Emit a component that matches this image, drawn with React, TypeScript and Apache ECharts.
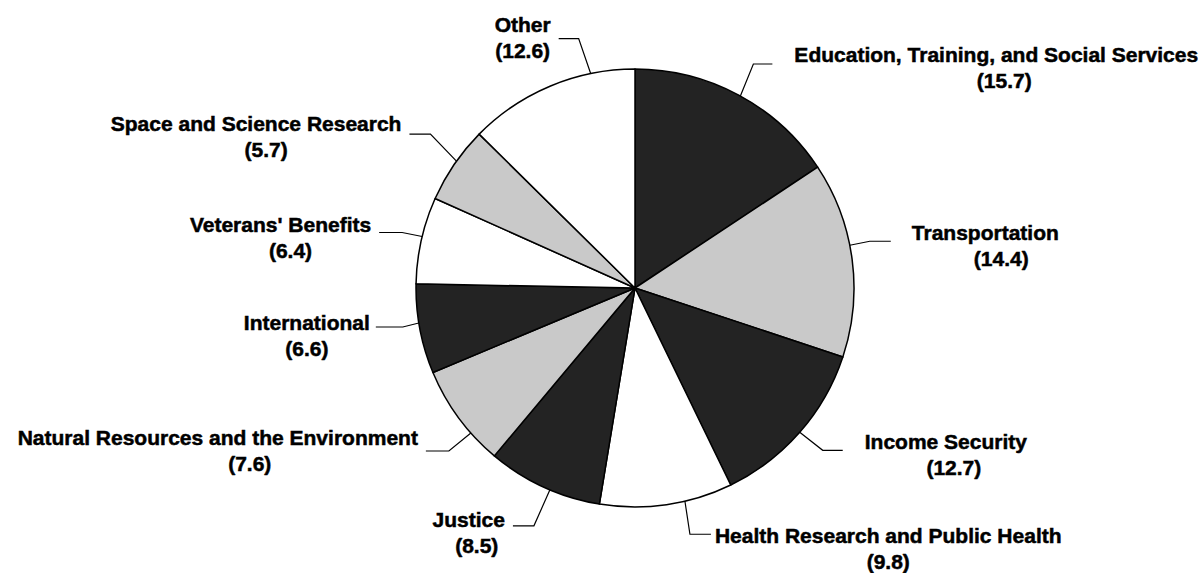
import React, { useEffect, useRef } from "react";
import * as echarts from "echarts";

const categories = [
  "Education, Training, and Social Services",
  "Transportation",
  "Income Security",
  "Health Research and Public Health",
  "Justice",
  "Natural Resources and the Environment",
  "International",
  "Veterans' Benefits",
  "Space and Science Research",
  "Other",
];
const values = [15.7, 14.4, 12.7, 9.8, 8.5, 7.6, 6.6, 6.4, 5.7, 12.6];
const fills = ["#232323", "#c9c9c9", "#232323", "#ffffff", "#232323", "#c9c9c9", "#232323", "#ffffff", "#c9c9c9", "#ffffff"];

// label leader-line layout (styling only): angle offset from slice middle (deg),
// elbow offset from the rim point, horizontal segment length, text gap, text vertical offset
const angleOffset = [0.5, -3.7, 0, -4.9, -1.8, -5.1, 1.6, 1.0, 1.0, 11];
const elbowDx = [13, 20, 23, 5, -16, -22, -16, -20, -26, -12];
const elbowDy = [-32, -4, 18, 33, 36, 18, 4, -4, -27, -35];
const segLen = [19, 21, 20, 21, 21, 23, 27, 23, 21, 20];
const textGap = [22, 21, 22, 4, 8, 8, 6, 8, 8, 8];
const textDy = [3, 4, 4, 14, 7, 0, 8, 5, 2, -1];
const valueShift = [8, 16, 8, 0, 8, 32, 0, 10, 10, 0];

const FONT = "'Liberation Sans', Arial, Helvetica, sans-serif";
const CX = 635;
const CY = 288;
const R = 219;

export default function App() {
  const ref = useRef<HTMLDivElement>(null);
  useEffect(() => {
    if (!ref.current) return;
    const chart = echarts.init(ref.current, undefined, { renderer: "svg" });
    const total = values.reduce((a, b) => a + b, 0);
    const mids: number[] = [];
    let acc = 0;
    values.forEach((v) => {
      mids.push(((acc + v / 2) / total) * 360);
      acc += v;
    });
    const data = categories.map((name, i) => ({
      name,
      value: values[i],
      itemStyle: { color: fills[i] },
      label: {
        formatter: `{n|${name}}\n{v${i}|(${values[i]})}`,
      },
    }));
    const base = {
      fontFamily: FONT,
      fontSize: 21,
      fontWeight: "bold",
      color: "#000",
      lineHeight: 26,
      align: "center",
      textBorderColor: "#000",
      textBorderWidth: 0.5,
    };
    const rich: any = { n: { ...base } };
    values.forEach((_, i) => {
      rich["v" + i] = { ...base, padding: [0, 0, 0, valueShift[i] * 2] };
    });
    chart.setOption({
      animation: false,
      backgroundColor: "#ffffff",
      series: [
        {
          type: "pie",
          center: [CX, CY],
          radius: R,
          startAngle: 90,
          clockwise: true,
          avoidLabelOverlap: false,
          data,
          itemStyle: { borderColor: "#000", borderWidth: 1.5 },
          label: {
            show: true,
            position: "outside",
            alignTo: "none",
            rich,
          },
          labelLine: {
            show: true,
            length: 20,
            length2: 20,
            lineStyle: { color: "#000", width: 1.2 },
          },
          labelLayout: (p: any) => {
            const i = p.dataIndex;
            const a = ((mids[i] + angleOffset[i]) * Math.PI) / 180;
            const ex = CX + R * Math.sin(a);
            const ey = CY - R * Math.cos(a);
            const bx = ex + elbowDx[i];
            const by = ey + elbowDy[i];
            const right = Math.sin(a) > 0;
            const endX = right ? bx + segLen[i] : bx - segLen[i];
            return {
              x: right ? endX + textGap[i] : endX - textGap[i],
              y: by + textDy[i],
              align: right ? "left" : "right",
              verticalAlign: "middle",
              labelLinePoints: [
                [ex, ey],
                [bx, by],
                [endX, by],
              ],
            };
          },
          emphasis: { disabled: true },
        },
      ],
    });
    return () => chart.dispose();
  }, []);
  return (
    <div
      ref={ref}
      style={{ position: "fixed", left: 0, top: 0, width: 1204, height: 573, background: "#fff" }}
    />
  );
}
